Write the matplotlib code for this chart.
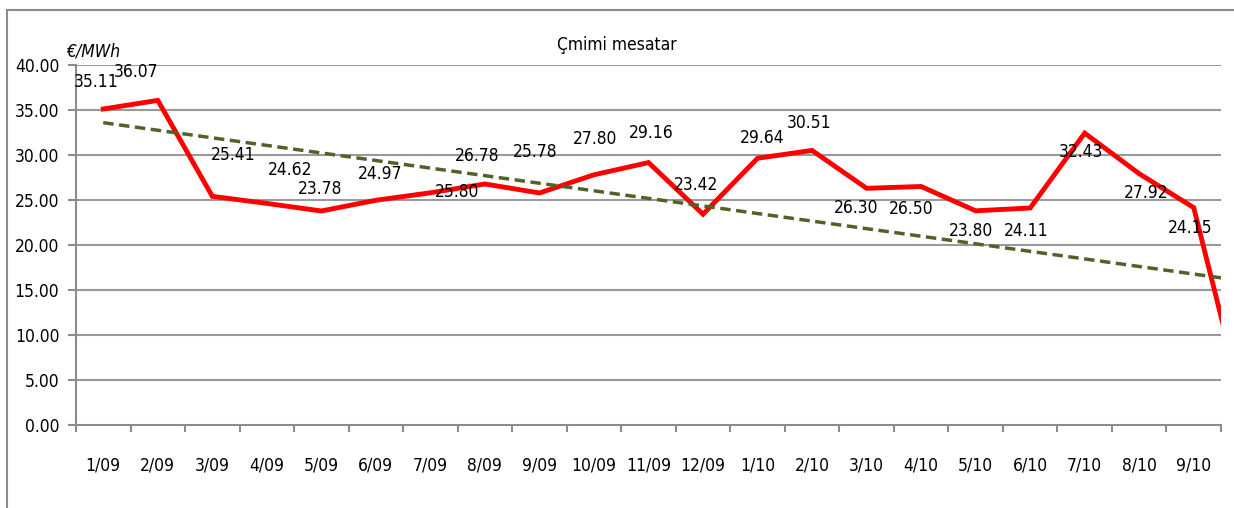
import numpy as np
import matplotlib
matplotlib.use('Agg')
import matplotlib.pyplot as plt
from matplotlib.lines import Line2D

plt.rcParams['font.family'] = ['DejaVu Sans']
plt.rcParams['font.stretch'] = 'condensed'

# muajt (te dhenat vazhdojne me 0 pas 9/10, grafiku eshte i prere)
muajt = ['1/09', '2/09', '3/09', '4/09', '5/09', '6/09', '7/09', '8/09', '9/09',
         '10/09', '11/09', '12/09', '1/10', '2/10', '3/10', '4/10', '5/10',
         '6/10', '7/10', '8/10', '9/10', '10/10', '11/10', '12/10']
cmimi = [35.11, 36.07, 25.41, 24.62, 23.78, 24.97, 25.80, 26.78, 25.78,
         27.80, 29.16, 23.42, 29.64, 30.51, 26.30, 26.50, 23.80,
         24.11, 32.43, 27.92, 24.15, 0.0, 0.0, 0.0]
n_shown = 21

# zhvendosja e etiketave (piksela)
label_dx = [-7, -22, 21, 23, -1, 4, 27, -8, -4, 1, 3, -7, 5, -3,
            -10, -10, -5, -4, -4, 7, -4]
label_dy = [27, 28, 41, 33, 22, 26, 1, 28, 41, 36, 30, 29, 20, 27,
            -20, -22, -20, -23, -19, -19, -20]

x = np.arange(len(cmimi))
y = np.array(cmimi)

# trend linear (si ne Excel)
k, b = np.polyfit(x, y, 1)

fig = plt.figure(figsize=(12.34, 5.08), dpi=100)
ax = fig.add_axes([76/1234, 1-425/508, (1221-76)/1234, (425-65)/508])

gray = '#8c8c8c'
for v in np.arange(5, 45, 5):
    ax.axhline(v, color='#9a9a9a', lw=1.5, zorder=1)

ax.plot(x, y, color='#ff0000', lw=3.5, zorder=3, solid_joinstyle='miter')
xt = np.array([0, len(cmimi) - 1])
ax.plot(xt, k*xt + b, color='#4f6228', lw=2.5, ls=(0, (3, 1.6)), zorder=4)

for i in range(n_shown):
    ax.annotate('%.2f' % cmimi[i], (x[i], y[i]),
                xytext=(label_dx[i], label_dy[i]), textcoords='offset pixels',
                ha='center', va='center', fontsize=12.5, zorder=5)

ax.set_xlim(-0.5, n_shown - 0.5)
ax.set_ylim(0, 40)
ax.set_yticks(np.arange(0, 45, 5))
ax.set_yticklabels(['%.2f' % v for v in np.arange(0, 45, 5)], fontsize=12.5)
ax.set_xticks(np.arange(n_shown))
ax.set_xticklabels(muajt[:n_shown], fontsize=12.5)
ax.set_xticks(np.arange(n_shown + 1) - 0.5, minor=True)
ax.tick_params(axis='x', which='major', length=0, pad=23)
ax.tick_params(axis='x', which='minor', length=5, color=gray, width=1.5)
ax.tick_params(axis='y', length=6, color=gray, width=1.5, pad=6)

for s in ['top', 'right']:
    ax.spines[s].set_visible(False)
for s in ['left', 'bottom']:
    ax.spines[s].set_color(gray)
    ax.spines[s].set_linewidth(1.5)

fig.text(617/1234, 1-45/508, 'Çmimi mesatar', fontsize=12.5,
         ha='center', va='center')
fig.text(66/1234, 1-52/508, '€/MWh', fontsize=12.5, style='italic',
         ha='left', va='center')

# korniza e grafikut
fig.add_artist(Line2D([7/1234, 7/1234], [0, 1-10/508], color=gray, lw=1.5,
                      transform=fig.transFigure))
fig.add_artist(Line2D([7/1234, 1], [1-10/508, 1-10/508], color=gray, lw=1.5,
                      transform=fig.transFigure))

fig.savefig('out.png', dpi=100)
